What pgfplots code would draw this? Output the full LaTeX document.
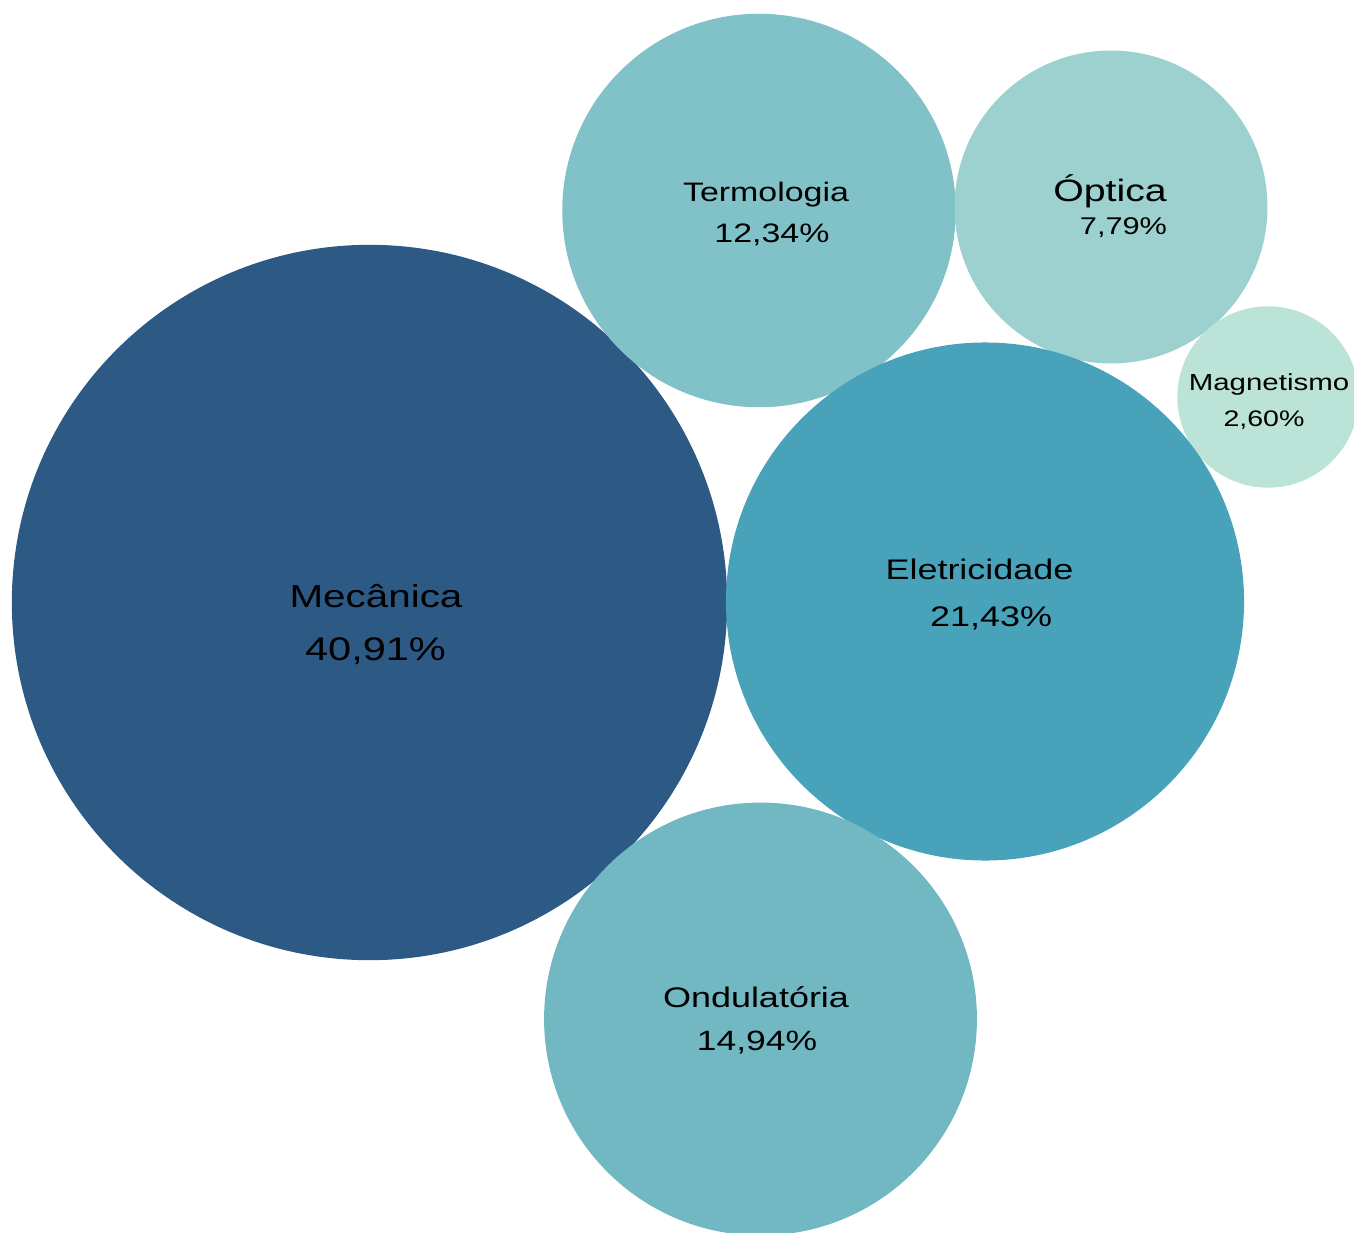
\documentclass[border=0pt]{standalone}
\usepackage{fontspec}
\setmainfont{Liberation Sans}
\usepackage{pgfplots}
\pgfplotsset{compat=1.18}
\definecolor{cMec}{HTML}{2D5985}
\definecolor{cEle}{HTML}{48A3BA}
\definecolor{cTer}{HTML}{81C2C9}
\definecolor{cOpt}{HTML}{9CD1D0}
\definecolor{cMag}{HTML}{BBE3D8}
\definecolor{cOnd}{HTML}{71B8C3}
\begin{document}
\begin{tikzpicture}
\begin{axis}[
  hide axis, scale only axis,
  width=13.54cm, height=12.33cm,
  xmin=0, xmax=1354, ymin=0, ymax=1233,
  y dir=reverse,
  clip marker paths=true,
]
% bubble area proportional to share: radius = sqrt(3115*p) px, 1px = 0.28453pt
\addplot[only marks, mark=*, color=cMec, mark size=101.57pt] coordinates {(369.5,602.5)};
\addplot[only marks, mark=*, color=cTer, mark size=55.78pt] coordinates {(759,210.5)};
\addplot[only marks, mark=*, color=cOpt, mark size=44.32pt] coordinates {(1111,207)};
\addplot[only marks, mark=*, color=cMag, mark size=25.6pt] coordinates {(1268,397)};
\addplot[only marks, mark=*, color=cEle, mark size=73.5pt] coordinates {(985,601.5)};
\addplot[only marks, mark=*, color=cOnd, mark size=61.38pt] coordinates {(760.5,1019)};

\node[anchor=base, xscale=1.27, font=\fontsize{9.05}{10}\selectfont] at (axis cs:376,607) {Mecânica};
\node[anchor=base, xscale=1.27, font=\fontsize{9.3}{10}\selectfont] at (axis cs:375.5,660) {40,91\%};
\node[anchor=base, xscale=1.27, font=\fontsize{7.6}{9}\selectfont] at (axis cs:766,201.7) {Termologia};
\node[anchor=base, xscale=1.27, font=\fontsize{7.6}{9}\selectfont] at (axis cs:772,243) {12,34\%};
\node[anchor=base, xscale=1.27, font=\fontsize{8.8}{10}\selectfont] at (axis cs:1110,201.7) {Óptica};
\node[anchor=base, xscale=1.27, font=\fontsize{6.88}{8}\selectfont] at (axis cs:1123.5,235) {7,79\%};
\node[anchor=base, xscale=1.27, font=\fontsize{6.6}{8}\selectfont] at (axis cs:1269,390.7) {Magnetismo};
\node[anchor=base, xscale=1.27, font=\fontsize{6.4}{8}\selectfont] at (axis cs:1264,426.7) {2,60\%};
\node[anchor=base, xscale=1.27, font=\fontsize{8.06}{9}\selectfont] at (axis cs:979.5,579.3) {Eletricidade};
\node[anchor=base, xscale=1.27, font=\fontsize{8.06}{9}\selectfont] at (axis cs:991,626) {21,43\%};
\node[anchor=base, xscale=1.27, font=\fontsize{8.06}{9}\selectfont] at (axis cs:756,1007) {Ondulatória};
\node[anchor=base, xscale=1.27, font=\fontsize{7.95}{9}\selectfont] at (axis cs:757,1050) {14,94\%};
\end{axis}
\path (current axis.south west) rectangle (current axis.north east);
\end{tikzpicture}
\end{document}
